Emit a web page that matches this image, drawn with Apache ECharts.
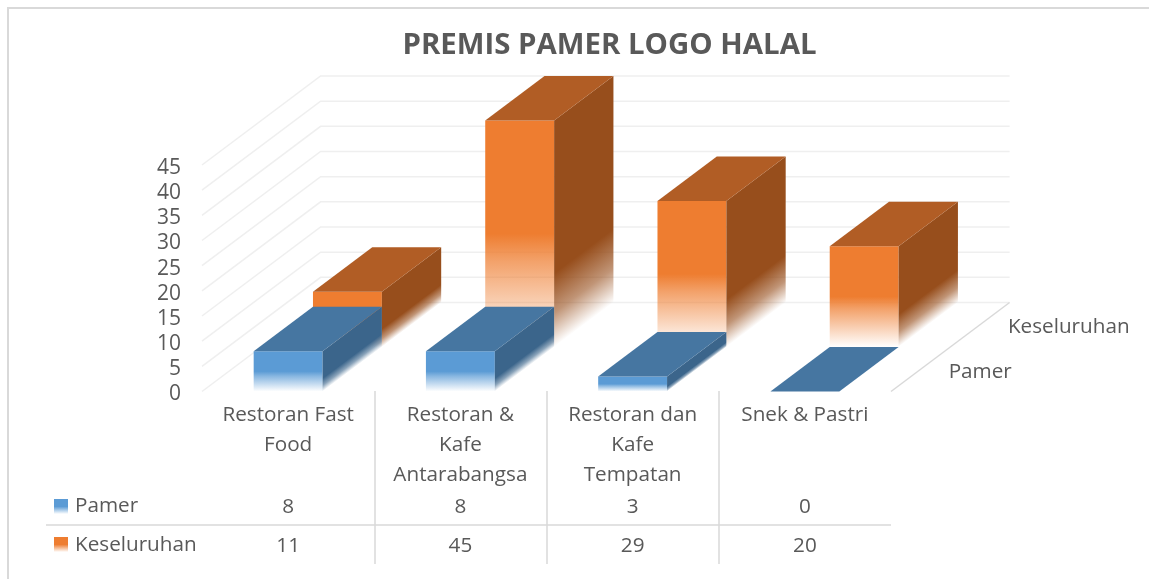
<!DOCTYPE html>
<html><head><meta charset="utf-8">
<script src="https://cdn.jsdelivr.net/npm/echarts@6/dist/echarts.min.js"></script>
<style>html,body{margin:0;padding:0;background:#fff}#c{width:1149px;height:579px}</style>
</head><body><div id="c"></div>
<script>
const categories = ['Restoran Fast\nFood', 'Restoran &\nKafe\nAntarabangsa', 'Restoran dan\nKafe\nTempatan', 'Snek & Pastri'];
const pamer = [8, 8, 3, 0];
const keseluruhan = [11, 45, 29, 20];
const rowNames = ['Pamer', 'Keseluruhan'];
const yTicks = [0, 5, 10, 15, 20, 25, 30, 35, 40, 45];

const FONT = '"Open Sans"';
const TXT = '#595959';
const FS = 20.7;
const DX = 59.3, DY = 44.5;
const BLUE = { front: [91, 155, 213], top: [70, 118, 161], side: [59, 101, 139] };
const ORANGE = { front: [238, 125, 48], top: [177, 93, 37], side: [151, 78, 28] };
const rgba = (c, a) => `rgba(${c[0]},${c[1]},${c[2]},${a})`;
const G = echarts.graphic.LinearGradient;

function barSeries(name, values, row, pal) {
  return {
    type: 'custom', name, xAxisIndex: 0, yAxisIndex: 0,
    data: values.map((v, i) => [i, v]),
    renderItem(params, api) {
      const cat = api.value(0), v = api.value(1);
      const base = api.coord([cat, 0]), top = api.coord([cat, v]);
      const bw = api.size([1, 0])[0] * 0.4;
      const ox = row * DX, oy = -row * DY;
      const xl = base[0] - bw / 2 + ox, xr = base[0] + bw / 2 + ox;
      const yb = base[1] + oy, yt = top[1] + oy, h = yb - yt;
      const kids = [];
      if (h > 0) {
        kids.push({ type: 'rect', shape: { x: xl, y: yt, width: bw, height: h },
          style: { fill: new G(0, yt, 0, yb, [
            { offset: 0, color: rgba(pal.front, 1) }, { offset: 0.5, color: rgba(pal.front, 1) },
            { offset: 0.62, color: rgba(pal.front, 0.72) }, { offset: 1, color: rgba(pal.front, 0) }], true) } });
        const len = Math.hypot(DX, DY);
        const nx = DY / len, ny = DX / len;
        const sx = xr, sy = yt + h * 0.5, d = h * 0.5 * ny;
        kids.push({ type: 'polygon', shape: { points: [[xr, yt], [xr + DX, yt - DY], [xr + DX, yb - DY], [xr, yb]] },
          style: { fill: new G(sx, sy, sx + nx * d, sy + ny * d, [
            { offset: 0, color: rgba(pal.side, 1) }, { offset: 0.35, color: rgba(pal.side, 1) },
            { offset: 0.7, color: rgba(pal.side, 0.6) }, { offset: 1, color: rgba(pal.side, 0) }], true) } });
      }
      kids.push({ type: 'polygon', shape: { points: [[xl, yt], [xr, yt], [xr + DX, yt - DY], [xl + DX, yt - DY]] },
        style: { fill: rgba(pal.top, 1) } });
      return { type: 'group', children: kids };
    }
  };
}

const option = {
  animation: false,
  backgroundColor: '#fff',
  title: { text: 'PREMIS PAMER LOGO HALAL', left: 604.5, top: 26, textAlign: 'center',
    textStyle: { fontFamily: FONT, fontWeight: 'bold', fontSize: 29.4, color: TXT } },
  grid: [
    { left: 202, right: 258, top: 165, height: 226.5 },
    { left: 202, right: 258, top: 486, height: 78 }
  ],
  xAxis: [
    { type: 'category', gridIndex: 0, data: categories,
      axisLine: { show: false }, axisTick: { show: false }, splitLine: { show: false },
      axisLabel: { interval: 0, margin: 9, fontFamily: FONT, fontSize: FS, color: TXT, lineHeight: 30, verticalAlign: 'top', align: 'center' } },
    { type: 'category', gridIndex: 1, data: categories, show: false }
  ],
  yAxis: [
    { type: 'value', gridIndex: 0, min: 0, max: 45, interval: 5,
      axisLine: { show: false }, axisTick: { show: false }, splitLine: { show: false },
      axisLabel: { margin: 21, fontFamily: FONT, fontSize: 21, color: TXT, verticalAlign: 'top', lineHeight: 6 } },
    { type: 'category', gridIndex: 1, data: rowNames, inverse: true,
      axisLine: { show: false }, axisTick: { show: false }, splitLine: { show: false },
      axisLabel: { align: 'left', margin: 127, fontFamily: FONT, fontSize: FS, color: TXT, verticalAlign: 'top', lineHeight: 2 } }
  ],
  series: [
    { type: 'custom', name: 'walls', xAxisIndex: 0, yAxisIndex: 0, silent: true,
      data: yTicks.map(v => [v]),
      renderItem(params, api) {
        const v = api.value(0);
        const g = params.coordSys;
        const a = api.coord([0, v]);
        const x0 = g.x, x1 = g.x + g.width, bx = x0 + 2 * DX, by = a[1] - 2 * DY;
        const kids = [{ type: 'polyline', shape: { points: [[x0, a[1]], [bx, by], [x1 + 2 * DX, by]] },
          style: { stroke: '#efefef', lineWidth: 1.5, fill: 'none' } }];
        if (v === 0) kids.push({ type: 'line', shape: { x1: x1, y1: a[1], x2: x1 + 2 * DX, y2: by },
          style: { stroke: '#d9d9d9', lineWidth: 1.5 } });
        return { type: 'group', children: kids };
      } },
    barSeries('Keseluruhan', keseluruhan, 1, ORANGE),
    barSeries('Pamer', pamer, 0, BLUE),
    { type: 'custom', name: 'depth labels', xAxisIndex: 0, yAxisIndex: 0, silent: true,
      data: rowNames.map((n, i) => [i]),
      renderItem(params, api) {
        const r = api.value(0);
        const g = params.coordSys;
        const a = api.coord([0, 0]);
        return { type: 'text', style: { text: rowNames[r], x: g.x + g.width + (r + 0.5) * DX + 28, y: a[1] - (r + 0.5) * DY + 2.5,
          fill: TXT, font: FS + 'px ' + FONT, textAlign: 'left', textVerticalAlign: 'middle' } };
      } },
    { type: 'custom', name: 'table', xAxisIndex: 1, yAxisIndex: 1, silent: true,
      data: pamer.map((v, i) => [i, 0, v]).concat(keseluruhan.map((v, i) => [i, 1, v])),
      renderItem(params, api) {
        const p = api.coord([api.value(0), api.value(1)]);
        return { type: 'text', style: { text: String(api.value(2)), x: p[0], y: p[1] + 1.5,
          fill: TXT, font: FS + 'px ' + FONT, textAlign: 'center', textVerticalAlign: 'middle' } };
      } }
  ],
  graphic: [
    { type: 'line', shape: { x1: 8, y1: 8, x2: 1149, y2: 8 }, style: { stroke: '#d9d9d9', lineWidth: 2 } },
    { type: 'line', shape: { x1: 8, y1: 7, x2: 8, y2: 579 }, style: { stroke: '#d9d9d9', lineWidth: 2 } },
    { type: 'line', shape: { x1: 46, y1: 525, x2: 891, y2: 525 }, style: { stroke: '#d9d9d9', lineWidth: 1.5 } },
    ...[375, 547, 719].map(x => ({ type: 'line', shape: { x1: x, y1: 391, x2: x, y2: 564 }, style: { stroke: '#d9d9d9', lineWidth: 1.5 } })),
    { type: 'rect', shape: { x: 54, y: 499, width: 14, height: 15 }, style: { fill: new G(0, 0, 0, 1, [
      { offset: 0, color: rgba(BLUE.front, 1) }, { offset: 0.5, color: rgba(BLUE.front, 1) }, { offset: 1, color: rgba(BLUE.front, 0) }]) } },
    { type: 'rect', shape: { x: 54, y: 537, width: 14, height: 15 }, style: { fill: new G(0, 0, 0, 1, [
      { offset: 0, color: rgba(ORANGE.front, 1) }, { offset: 0.5, color: rgba(ORANGE.front, 1) }, { offset: 1, color: rgba(ORANGE.front, 0) }]) } }
  ]
};
echarts.init(document.getElementById('c'), null, { renderer: 'canvas' }).setOption(option);
</script></body></html>
